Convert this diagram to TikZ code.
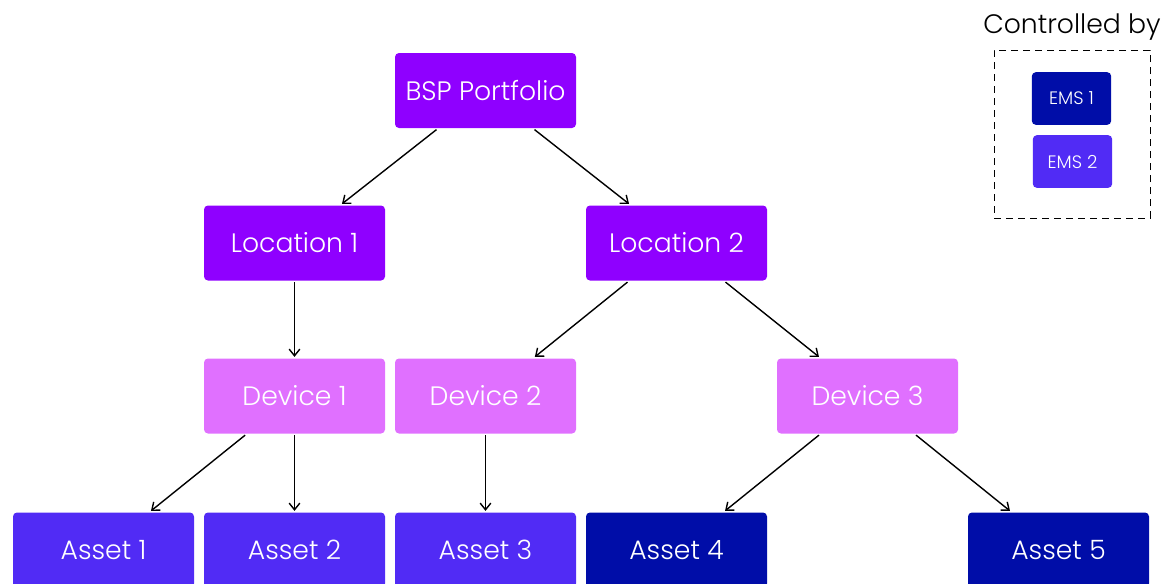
\documentclass[tikz,border=0pt]{standalone}
\usepackage{fontspec}
\setmainfont{Poppins}[UprightFont=* Light]
\usetikzlibrary{arrows.meta}
\definecolor{portfolio}{HTML}{8F00FF}
\definecolor{device}{HTML}{E070FF}
\definecolor{emsone}{HTML}{000DA8}
\definecolor{emstwo}{HTML}{512BF5}

\begin{document}
\begin{tikzpicture}[x=0.75pt,y=-0.75pt,
  box/.style={rectangle, rounded corners=3pt, text=white, minimum width=135.75pt,
    minimum height=56.25pt, inner sep=0pt, font=\fontsize{20}{24}\selectfont},
  small/.style={rectangle, rounded corners=3pt, text=white, minimum width=59.5pt,
    minimum height=39.5pt, inner sep=0pt, font=\fontsize{13.5}{16}\selectfont},
  link/.style={-{Straight Barb[length=5pt,width=8pt]}, line width=1.05pt}]
\useasboundingbox (0,0) rectangle (1166,583);

\node[box, fill=portfolio] (bsp) at (485.5,90.5) {BSP Portfolio};
\node[box, fill=portfolio] (loc1) at (294.5,243) {Location 1};
\node[box, fill=portfolio] (loc2) at (676.5,243) {Location 2};
\node[box, fill=device] (dev1) at (294.5,396) {Device 1};
\node[box, fill=device] (dev2) at (485.5,396) {Device 2};
\node[box, fill=device] (dev3) at (867.5,396) {Device 3};
\node[box, fill=emstwo] (as1) at (103.5,550) {Asset 1};
\node[box, fill=emstwo] (as2) at (294.5,550) {Asset 2};
\node[box, fill=emstwo] (as3) at (485.5,550) {Asset 3};
\node[box, fill=emsone] (as4) at (676.5,550) {Asset 4};
\node[box, fill=emsone] (as5) at (1058.5,550) {Asset 5};

% legend
\node[font=\fontsize{20}{24}\selectfont] (ctrl) at (1072,27) {Controlled by};
\node[draw, dashed, line width=0.6pt, dash pattern=on 5pt off 4pt,
  minimum width=117pt, minimum height=126pt] (legend) at (1072,134) {};
\node[small, fill=emsone] (ems1) at (1071.5,98.5) {EMS 1};
\node[small, fill=emstwo] (ems2) at (1072.5,161.5) {EMS 2};

% arrows
\draw[link] ([xshift=-36.75pt,yshift=-1pt]bsp.south) -- ([xshift=35.6pt,yshift=1pt]loc1.north);
\draw[link] ([xshift=36.75pt,yshift=-1pt]bsp.south) -- ([xshift=-35.6pt,yshift=1pt]loc2.north);
\draw[link] ([yshift=-1pt]loc1.south) -- ([yshift=1pt]dev1.north);
\draw[link] ([xshift=-36.75pt,yshift=-1pt]loc2.south) -- ([xshift=37pt,yshift=1pt]dev2.north);
\draw[link] ([xshift=36.75pt,yshift=-1pt]loc2.south) -- ([xshift=-36.4pt,yshift=1pt]dev3.north);
\draw[link] ([xshift=-37pt,yshift=-1pt]dev1.south) -- ([xshift=35.6pt,yshift=1pt]as1.north);
\draw[link] ([yshift=-1pt]dev1.south) -- ([yshift=1pt]as2.north);
\draw[link] ([yshift=-1pt]dev2.south) -- ([yshift=1pt]as3.north);
\draw[link] ([xshift=-36.4pt,yshift=-1pt]dev3.south) -- ([xshift=36.4pt,yshift=1pt]as4.north);
\draw[link] ([xshift=36.4pt,yshift=-1pt]dev3.south) -- ([xshift=-36.4pt,yshift=1pt]as5.north);

\end{tikzpicture}
\end{document}
